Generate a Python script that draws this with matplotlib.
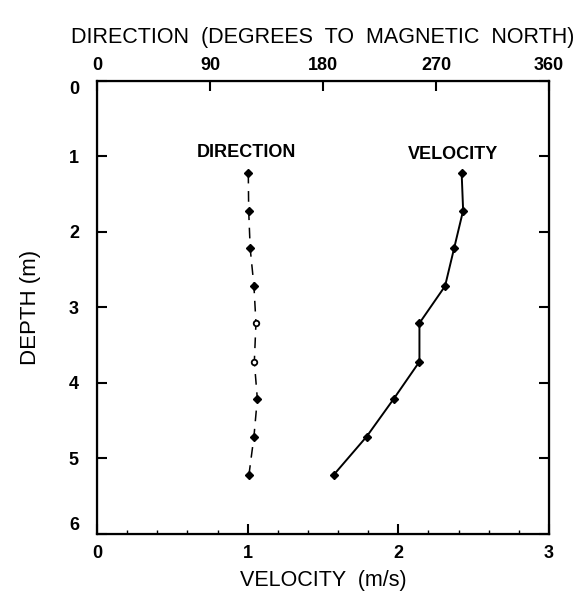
import numpy as np
import matplotlib
matplotlib.use("Agg")
import matplotlib.pyplot as plt
from matplotlib.ticker import MultipleLocator

plt.rcParams["font.family"] = ["Liberation Sans", "DejaVu Sans"]

# valores
profundidad = [1.22, 1.72, 2.22, 2.72, 3.21, 3.72, 4.21, 4.71, 5.22]
velocidad = [2.42, 2.43, 2.37, 2.31, 2.14, 2.14, 1.97, 1.79, 1.57]
direccion = [120.5, 120.8, 122.0, 125.0, 126.6, 125.3, 127.7, 125.0, 121.0]
dir_abierto = [False, False, False, False, True, True, False, False, False]

vel_ticks = [0, 1, 2, 3]
dir_ticks = [0, 90, 180, 270, 360]
prof_ticks = [0, 1, 2, 3, 4, 5, 6]


def main():
    fig = plt.figure(figsize=(5.85, 6.0), dpi=100)
    ax = fig.add_axes([0.1658, 0.11, 0.7727, 0.7558])

    ax.set_xlim(0, 3)
    ax.set_ylim(6, 0)
    ax.set_xticks(vel_ticks)
    ax.set_yticks(prof_ticks)
    ax.xaxis.set_minor_locator(MultipleLocator(0.2))
    ax.tick_params(axis="both", which="major", direction="in", length=7,
                   width=1.5, labelsize=13)
    ax.tick_params(axis="x", which="major", pad=8)
    ax.tick_params(axis="y", which="major", pad=13, right=True)
    ax.tick_params(axis="x", which="minor", direction="in", length=3, width=1)
    for lab in ax.get_xticklabels() + ax.get_yticklabels():
        lab.set_fontweight("bold")
    # el 0 y el 6 van un poco hacia dentro, como en el original
    ylabs = ax.get_yticklabels()
    ylabs[0].set_va("top")
    ylabs[-1].set_va("bottom")
    for s in ax.spines.values():
        s.set_linewidth(1.6)

    ax.plot(velocidad, profundidad, color="black", lw=1.4,
            marker="D", ms=4.5, mfc="black", mec="black")

    ax2 = ax.twiny()
    ax2.set_xlim(0, 360)
    ax2.set_xticks(dir_ticks)
    ax2.tick_params(axis="x", direction="in", length=7, width=1.5,
                    labelsize=13, pad=5)
    for lab in ax2.get_xticklabels():
        lab.set_fontweight("bold")
    ax2.plot(direccion, profundidad, color="black", lw=1.1, dashes=(7, 5))
    d = np.array(direccion)
    p = np.array(profundidad)
    m = np.array(dir_abierto)
    ax2.plot(d[~m], p[~m], ls="none", marker="D", ms=4, color="black")
    ax2.plot(d[m], p[m], ls="none", marker="o", ms=4, mfc="white",
             mec="black", mew=1.3)

    ax.text(0.99, 0.95, "DIRECTION", ha="center", va="center",
            fontsize=13, fontweight="bold")
    ax.text(2.36, 0.98, "VELOCITY", ha="center", va="center",
            fontsize=13, fontweight="bold")

    ax.set_xlabel("VELOCITY  (m/s)", fontsize=15.5, labelpad=6)
    ax.set_ylabel("DEPTH (m)", fontsize=16, labelpad=20)
    ax2.set_xlabel("DIRECTION  (DEGREES  TO  MAGNETIC  NORTH)", fontsize=15.5,
                   labelpad=10)

    fig.savefig("out.png", dpi=100)


if __name__ == "__main__":
    main()
